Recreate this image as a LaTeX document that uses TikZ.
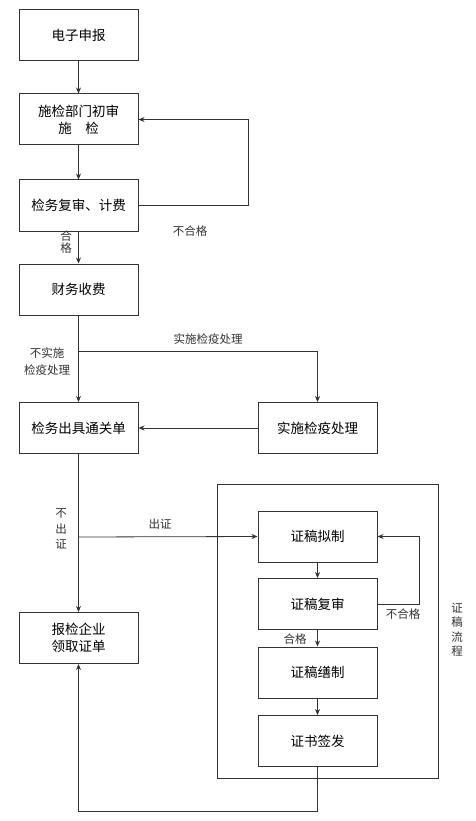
\documentclass[tikz,border=0pt]{standalone}
\usepackage{fontspec}
\newfontfamily\cjk{Noto Sans CJK SC}
\usepackage{xcolor}
\definecolor{FlowInk}{rgb}{0.2, 0.2, 0.2}
\usetikzlibrary{arrows.meta, positioning}
\newcommand{\boxfont}{\cjk\fontsize{13.5}{17}\selectfont}
\newcommand{\labelfont}{\cjk\fontsize{11.5}{14}\selectfont}

\begin{document}
\begin{tikzpicture}[
    x=1pt, y=-1pt,
    font=\boxfont,
    >={Stealth[length=6pt, width=5pt]},
    flow_box/.style={draw=FlowInk, line width=1pt, fill=white, minimum width=119pt, minimum height=51pt, align=center, inner sep=0pt},
    flow_line/.style={->, FlowInk, line width=0.8pt},
    flow_label/.style={font=\labelfont, text=FlowInk, inner sep=1pt, align=center},
    stack_label/.style={flow_label, font=\cjk\fontsize{11.5}{15.5}\selectfont}
]

    % 0. CANVAS
    \useasboundingbox[fill=white] (0,0) rectangle (475,821);

    % 1. CERTIFICATE FRAME
    \draw[FlowInk, line width=1pt] (217,484) rectangle (438,778);

    % 2. MAIN COLUMN
    \node[flow_box] (e_report) at (78.5,35.5) {电子申报};
    \node[flow_box] (first_review) at (78.5,119.5) {施检部门初审\\施\quad 检};
    \node[flow_box] (re_review) at (78.5,205.5) {检务复审、计费};
    \node[flow_box] (finance) at (78.5,289.5) {财务收费};
    \node[flow_box] (clearance) at (78.5,428) {检务出具通关单};
    \node[flow_box] (pickup) at (78.5,638) {报检企业\\领取证单};

    % 3. RIGHT COLUMN
    \node[flow_box] (quarantine) at (317.5,428) {实施检疫处理};
    \node[flow_box] (draft) at (317.5,536.5) {证稿拟制};
    \node[flow_box] (recheck) at (317.5,604) {证稿复审};
    \node[flow_box] (typeset) at (317.5,672.5) {证稿缮制};
    \node[flow_box] (sign) at (317.5,741) {证书签发};

    % 4. CONNECTORS
    \coordinate (split_quar) at (78.5,351);
    \coordinate (split_cert) at (78.5,537);
    \draw[flow_line] (e_report) -- (first_review);
    \draw[flow_line] (first_review) -- (re_review);
    \draw[flow_line] (re_review.east) -- ++(110,0) |- (first_review.east);
    \draw[flow_line] (re_review) -- (finance);
    \draw[flow_line] (finance) -- (clearance);
    \draw[flow_line] (split_quar) -| (quarantine.north);
    \draw[flow_line] (quarantine) -- (clearance);
    \draw[flow_line] (clearance) -- (pickup);
    \draw[flow_line] (split_cert) -- (draft.west);
    \draw[flow_line] (draft) -- (recheck);
    \draw[flow_line] (recheck.east) -- ++(42,0) |- (draft.east);
    \draw[flow_line] (recheck) -- (typeset);
    \draw[flow_line] (typeset) -- (sign);
    \draw[flow_line] (sign.south) -- ++(0,44) -| (pickup.south);

    % 5. LABELS
    \node[flow_label] (fail_a) at (190,231) {不合格};
    \node[stack_label, font=\cjk\fontsize{11.5}{10.5}\selectfont] (pass_a) at (66,242) {合\\格};
    \node[flow_label] (do_quar) at (208,339) {实施检疫处理};
    \node[flow_label, font=\cjk\fontsize{11.5}{17}\selectfont] (no_quar) at (47,362) {不实施\\检疫处理};
    \node[flow_label] (issue) at (160,524) {出证};
    \node[stack_label] (no_issue) at (61,529) {不\\出\\证};
    \node[flow_label] (fail_b) at (403,614) {不合格};
    \node[flow_label] (pass_b) at (295,639) {合格};
    \node[stack_label, font=\cjk\fontsize{11.5}{14.5}\selectfont] (frame_title) at (457,630) {证\\稿\\流\\程};

\end{tikzpicture}
\end{document}
